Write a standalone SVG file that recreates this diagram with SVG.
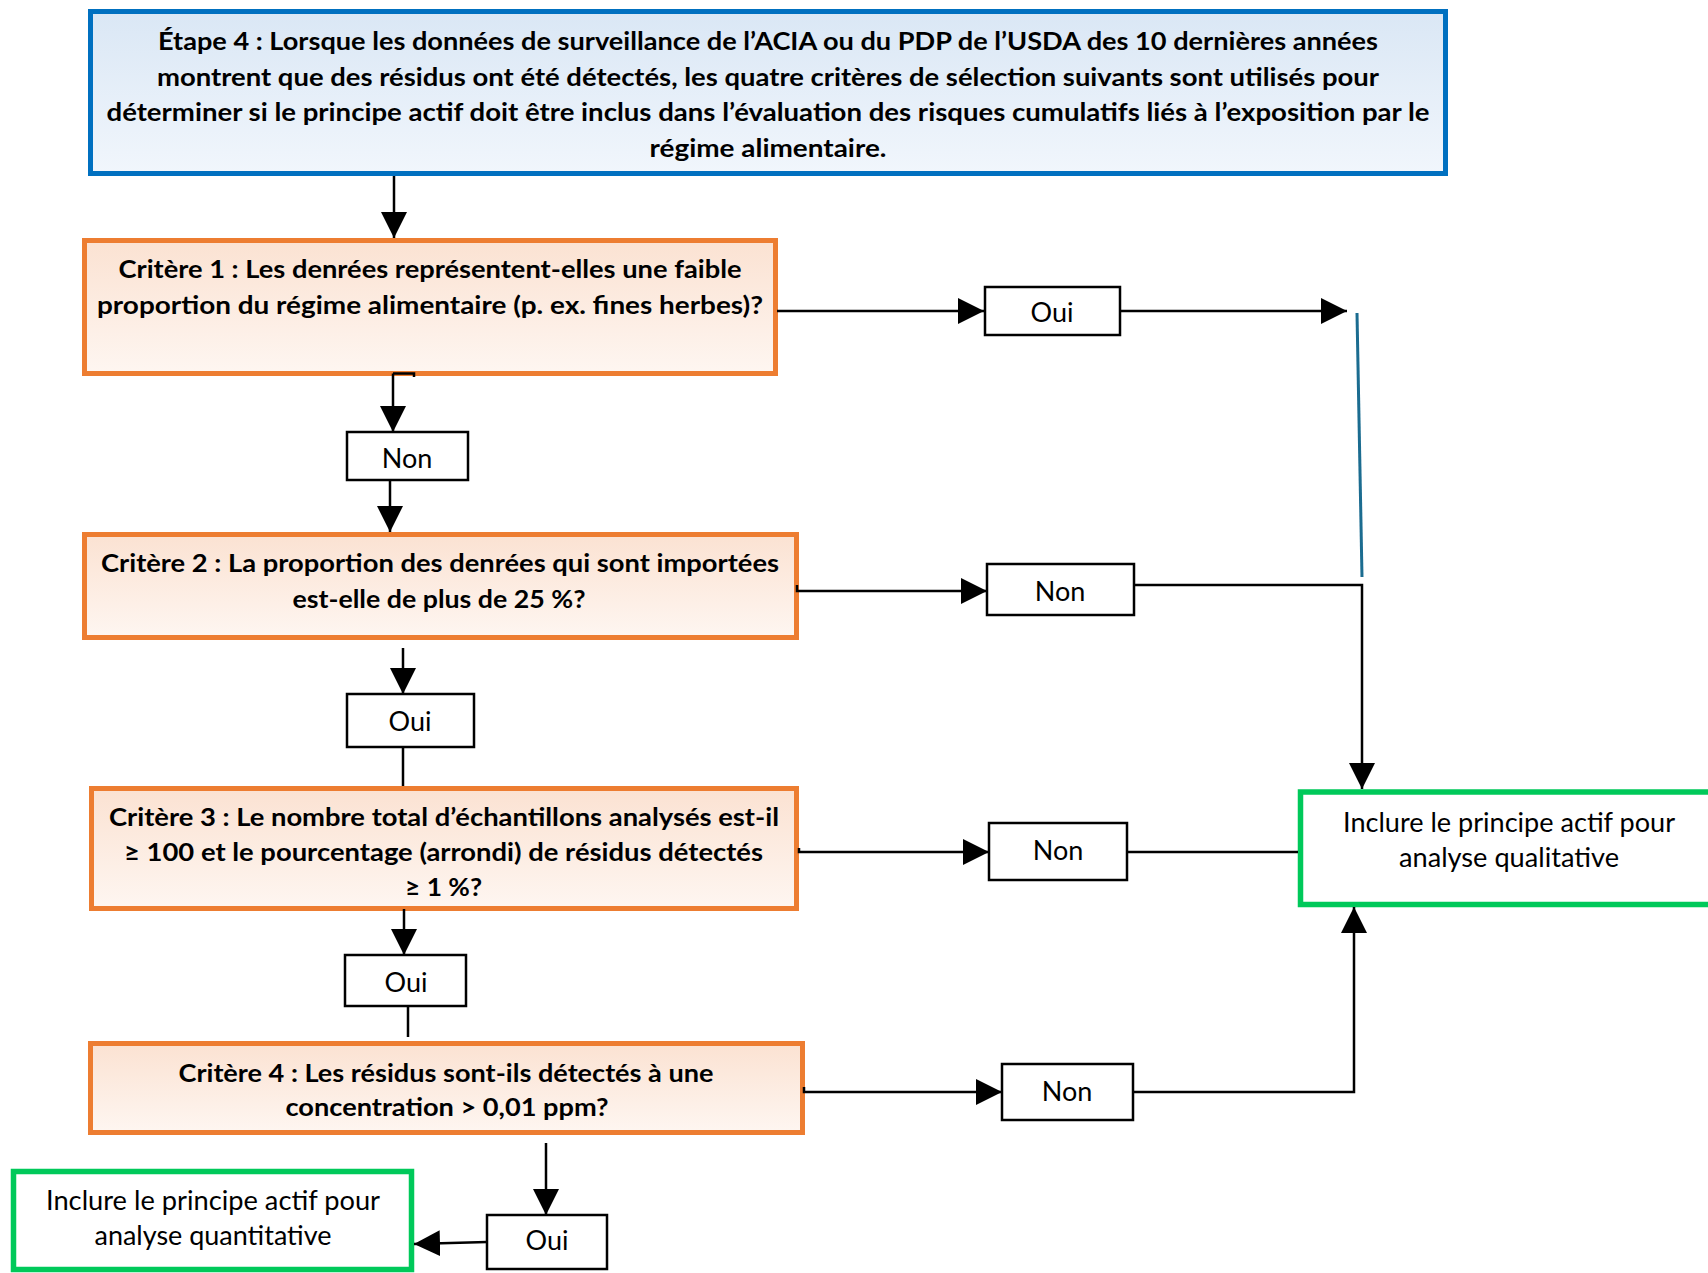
<svg xmlns="http://www.w3.org/2000/svg" width="1708" height="1273" viewBox="0 0 1708 1273">
<defs>
<linearGradient id="gBlue" x1="0" y1="0" x2="0" y2="1">
<stop offset="0" stop-color="#DAE7F5"/>
<stop offset="1" stop-color="#F1F6FC"/>
</linearGradient>
<linearGradient id="gOrange" x1="0" y1="0" x2="0" y2="1">
<stop offset="0" stop-color="#FBE2D2"/>
<stop offset="1" stop-color="#FEF6F1"/>
</linearGradient>
<marker id="arr" markerUnits="userSpaceOnUse" markerWidth="26" markerHeight="26" refX="26" refY="13" orient="auto">
<path d="M0,0 L26,13 L0,26 z" fill="#000"/>
</marker>
</defs>
<style>
.b{font-family:Lato,"Liberation Sans",sans-serif;font-weight:bold;font-size:25px;fill:#000;text-anchor:middle}
.r{font-family:Lato,"Liberation Sans",sans-serif;font-size:27px;fill:#000;text-anchor:middle}
.crit{fill:url(#gOrange);stroke:#ED7D31;stroke-width:5}
.lab{fill:#fff;stroke:#000;stroke-width:2.5}
.grn{fill:#fff;stroke:#00C95A;stroke-width:5.5}
.c{fill:none;stroke:#000;stroke-width:2.5}
.ca{fill:none;stroke:#000;stroke-width:2.5;marker-end:url(#arr)}
</style>
<rect width="1708" height="1273" fill="#fff"/>

<g id="etape4">
<rect x="90.5" y="11.5" width="1355" height="162" fill="url(#gBlue)" stroke="#0070C0" stroke-width="5"/>
<text class="b" x="768" y="50" textLength="1220" lengthAdjust="spacingAndGlyphs">Étape 4 : Lorsque les données de surveillance de l’ACIA ou du PDP de l’USDA des 10 dernières années</text>
<text class="b" x="768" y="86" textLength="1222" lengthAdjust="spacingAndGlyphs">montrent que des résidus ont été détectés, les quatre critères de sélection suivants sont utilisés pour</text>
<text class="b" x="768" y="121" textLength="1323" lengthAdjust="spacingAndGlyphs">déterminer si le principe actif doit être inclus dans l’évaluation des risques cumulatifs liés à l’exposition par le</text>
<text class="b" x="768" y="157" textLength="237" lengthAdjust="spacingAndGlyphs">régime alimentaire.</text>
</g>

<g id="critere1">
<rect class="crit" x="84.5" y="240.5" width="691" height="133"/>
<text class="b" x="430" y="278" textLength="623" lengthAdjust="spacingAndGlyphs">Critère 1 : Les denrées représentent-elles une faible</text>
<text class="b" x="430" y="314" textLength="666" lengthAdjust="spacingAndGlyphs">proportion du régime alimentaire (p. ex. fines herbes)?</text>
</g>

<g id="critere2">
<rect class="crit" x="84.5" y="534.5" width="712" height="103"/>
<text class="b" x="440" y="572" textLength="678" lengthAdjust="spacingAndGlyphs">Critère 2 : La proportion des denrées qui sont importées</text>
<text class="b" x="439" y="608" textLength="293" lengthAdjust="spacingAndGlyphs">est-elle de plus de 25 %?</text>
</g>

<g id="critere3">
<rect class="crit" x="91.5" y="788.5" width="705" height="120"/>
<text class="b" x="444" y="826" textLength="670" lengthAdjust="spacingAndGlyphs">Critère 3 : Le nombre total d’échantillons analysés est-il</text>
<text class="b" x="443.5" y="861" textLength="639" lengthAdjust="spacingAndGlyphs">≥ 100 et le pourcentage (arrondi) de résidus détectés</text>
<text class="b" x="443.5" y="896" textLength="77" lengthAdjust="spacingAndGlyphs">≥ 1 %?</text>
</g>

<g id="critere4">
<rect class="crit" x="90.5" y="1043.5" width="712" height="89"/>
<text class="b" x="446" y="1082" textLength="535" lengthAdjust="spacingAndGlyphs">Critère 4 : Les résidus sont-ils détectés à une</text>
<text class="b" x="447" y="1116" textLength="323" lengthAdjust="spacingAndGlyphs">concentration &gt; 0,01 ppm?</text>
</g>

<g id="oui1"><rect class="lab" x="985" y="287" width="135" height="48"/><text class="r" x="1052" y="322">Oui</text></g>
<g id="non1"><rect class="lab" x="347" y="432" width="121" height="48"/><text class="r" x="407" y="468">Non</text></g>
<g id="non2"><rect class="lab" x="987" y="564" width="147" height="51"/><text class="r" x="1060" y="601">Non</text></g>
<g id="oui2"><rect class="lab" x="347" y="694" width="127" height="53"/><text class="r" x="410" y="731">Oui</text></g>
<g id="non3"><rect class="lab" x="989" y="823" width="138" height="57"/><text class="r" x="1058" y="860">Non</text></g>
<g id="oui3"><rect class="lab" x="345" y="955" width="121" height="51"/><text class="r" x="406" y="992">Oui</text></g>
<g id="non4"><rect class="lab" x="1002" y="1064" width="131" height="56"/><text class="r" x="1067" y="1101">Non</text></g>
<g id="oui4"><rect class="lab" x="487" y="1215" width="120" height="54"/><text class="r" x="547" y="1250">Oui</text></g>

<g id="qualitative">
<rect class="grn" x="1300.5" y="792" width="500" height="112.5"/>
<text class="r" x="1509" y="832" textLength="332" lengthAdjust="spacingAndGlyphs">Inclure le principe actif pour</text>
<text class="r" x="1509" y="867" textLength="220" lengthAdjust="spacingAndGlyphs">analyse qualitative</text>
</g>

<g id="quantitative">
<rect class="grn" x="13.5" y="1171.5" width="398" height="98"/>
<text class="r" x="213" y="1210" textLength="334" lengthAdjust="spacingAndGlyphs">Inclure le principe actif pour</text>
<text class="r" x="213" y="1245" textLength="237" lengthAdjust="spacingAndGlyphs">analyse quantitative</text>
</g>

<g id="connectors">
<path class="ca" d="M394,176 L394,238"/>
<path class="ca" d="M777,311 L984,311"/>
<path class="ca" d="M1121,311 L1347,311"/>
<path d="M1357,313 L1362,577" fill="none" stroke="#1B6C90" stroke-width="3"/>
<path class="c" d="M414,377 L414,373.5 L393,373.5"/>
<path class="ca" d="M393,373.5 L393,432"/>
<path class="ca" d="M390,481 L390,532"/>
<path class="ca" d="M797,585 L797,591 L987,591"/>
<path class="ca" d="M1134,585 L1362,585 L1362,789"/>
<path class="ca" d="M403,648 L403,694"/>
<path class="c" d="M403,747 L403,786"/>
<path class="ca" d="M799,848 L799,852 L989,852"/>
<path class="c" d="M1127,852 L1298,852"/>
<path class="ca" d="M404,909 L404,955"/>
<path class="c" d="M408,1006 L408,1037"/>
<path class="ca" d="M804,1087 L804,1092 L1002,1092"/>
<path class="ca" d="M1133,1092 L1354,1092 L1354,907"/>
<path class="ca" d="M546,1143 L546,1215"/>
<path class="ca" d="M487,1242 L414,1244"/>
</g>
</svg>
